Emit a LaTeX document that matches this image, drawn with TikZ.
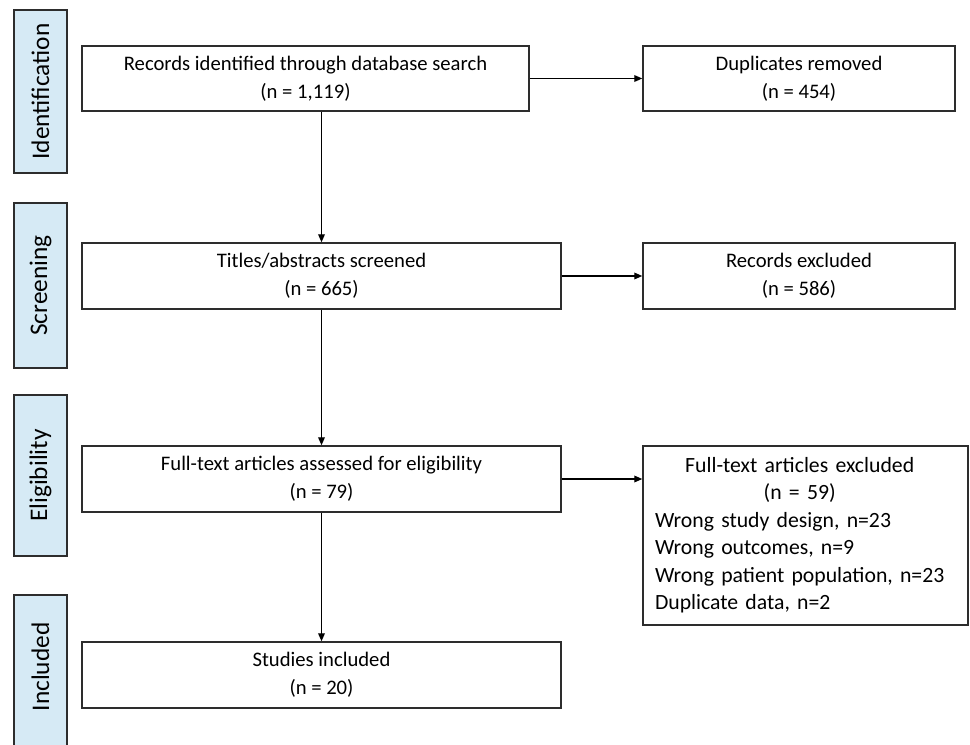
\documentclass[tikz,border=0pt]{standalone}
\usepackage{fontspec}
\setmainfont{Carlito}
\usetikzlibrary{arrows.meta}
\definecolor{sidefill}{RGB}{214,234,245}
\definecolor{edgecol}{RGB}{45,45,45}
\begin{document}
\begin{tikzpicture}[x=0.75pt,y=-0.75pt,
  txt/.style={font=\fontsize{15.5}{21}\selectfont},
  box/.style={txt,draw=edgecol,line width=1.1pt,fill=white,align=center,inner sep=0pt},
  sidebox/.style={draw=edgecol,line width=1.1pt,fill=sidefill,minimum width=53*0.75pt,inner sep=0pt},
  sidelabel/.style={font=\fontsize{19}{23}\selectfont,rotate=90},
  arr/.style={draw=black,line width=1pt,-{Triangle[length=6pt,width=5pt]}}]
\clip (0,0) rectangle (970,745);
\fill[white] (0,0) rectangle (970,745);
% side phase boxes
\node[sidebox,minimum height=163*0.75pt] (sid) at (40.5,91.5) {};
\node[sidelabel] (lid) at (sid.center) {Identification};
\node[sidebox,minimum height=165*0.75pt] (ssc) at (40.5,285.5) {};
\node[sidelabel] (lsc) at (ssc.center) {Screening};
\node[sidebox,minimum height=161*0.75pt] (sel) at (40.5,475.5) {};
\node[sidelabel] (lel) at (sel.center) {Eligibility};
\node[sidebox,minimum height=165*0.75pt] (sin) at (40.5,677.5) {};
\node[sidelabel] (lin) at (40.5,667) {Included};
% main boxes
\node[box,minimum width=447*0.75pt,minimum height=65*0.75pt] (rec) at (305.5,78.5) {Records identified through database search\\(n = 1,119)};
\node[box,minimum width=312*0.75pt,minimum height=65*0.75pt] (dup) at (799,78.5) {Duplicates removed\\(n = 454)};
\node[box,minimum width=479*0.75pt,minimum height=66*0.75pt] (tit) at (321.5,276) {Titles/abstracts screened\\(n = 665)};
\node[box,minimum width=312*0.75pt,minimum height=66*0.75pt] (rex) at (799,276) {Records excluded\\(n = 586)};
\node[box,minimum width=479*0.75pt,minimum height=66*0.75pt] (fta) at (321.5,479) {Full-text articles assessed for eligibility\\(n = 79)};
\node[font=\fontsize{16.3}{20.6}\selectfont,draw=edgecol,line width=1.1pt,fill=white,text width=301*0.75pt,align=left,minimum height=179*0.75pt,inner xsep=12*0.75pt,inner ysep=0pt] (fte) at (805.5,535.5) {\begin{tabular}{@{}l@{}}\multicolumn{1}{@{}c@{}}{Full-text articles excluded}\\\multicolumn{1}{@{}c@{}}{(n = 59)}\\Wrong study design, n=23\\Wrong outcomes, n=9\\Wrong patient population, n=23\\Duplicate data, n=2\end{tabular}};
\node[box,minimum width=479*0.75pt,minimum height=66*0.75pt] (stu) at (321.5,675) {Studies included\\(n = 20)};
% connectors
\draw[arr] (rec.east) -- (dup.west);
\draw[arr] (tit.east) -- (rex.west);
\draw[arr] (fta.east) -- (fte.west |- fta.east);
\draw[arr] (rec.south -| tit.north) -- (tit.north);
\draw[arr] (tit.south) -- (fta.north);
\draw[arr] (fta.south) -- (stu.north);
\end{tikzpicture}
\end{document}
